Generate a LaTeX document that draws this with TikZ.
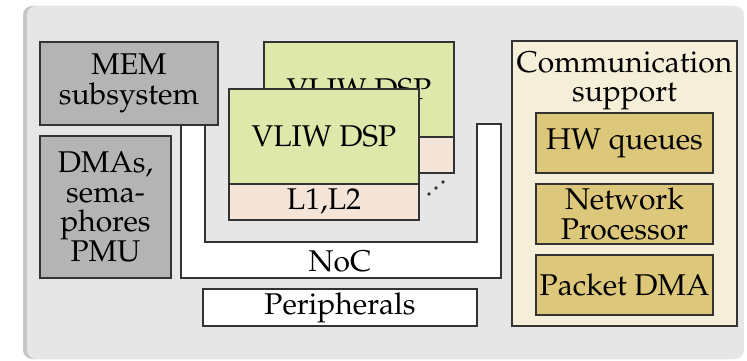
\documentclass[tikz,border=0pt]{standalone}
\usepackage[T1]{fontenc}
\usepackage{mathpazo}
\usetikzlibrary{positioning, shadows}
\definecolor{panelGray}{HTML}{E6E6E6}
\definecolor{boxGray}{HTML}{B4B4B4}
\definecolor{lineGray}{HTML}{333333}
\definecolor{dspGreen}{HTML}{DDE8AA}
\definecolor{memPink}{HTML}{F5E4D8}
\definecolor{commCream}{HTML}{F5EFD9}
\definecolor{commGold}{HTML}{DCC77A}

\begin{document}
\begin{tikzpicture}[x=1pt, y=-1pt,
    every node/.style={font=\fontsize{30}{29.5}\selectfont},
    blk/.style={draw=lineGray, line width=2.2pt, inner sep=0pt, outer sep=0pt,
                anchor=north west, align=center},
    graybox/.style={blk, fill=boxGray},
    dspbox/.style={blk, fill=dspGreen, minimum width=190pt, minimum height=95pt},
    cachebox/.style={blk, fill=memPink, minimum width=190pt, minimum height=36pt},
    goldbox/.style={blk, fill=commGold, minimum width=177pt, minimum height=60pt}]
  \useasboundingbox (0,0) rectangle (747,361);

  % background panel
  \path[fill=panelGray, rounded corners=9pt,
        drop shadow={shadow xshift=-4pt, shadow yshift=0pt, opacity=0.45}]
    (27,6) rectangle (744,359);

  % NoC
  \draw[draw=lineGray, line width=2.2pt, fill=white]
    (181,125) -- (181,278) -- (501,278) -- (501,124) -- (477,124)
    -- (477,242) -- (205,242) -- (205,125) -- cycle;
  \node (noc) at (340,261) {NoC};
  \node[blk, fill=white, minimum width=274pt, minimum height=37pt] (periph) at (203,289) {Peripherals};

  % memory and DMA blocks
  \node[graybox, minimum width=178pt, minimum height=83pt] (mem) at (40,42) {MEM\\subsystem};
  \node[graybox, minimum width=131pt, minimum height=142pt] (dma) at (40,136) {DMAs,\\sema-\\phores\\PMU};

  % DSP clusters
  \node[dspbox] (dspB) at (264,42) {VLIW DSP};
  \node[cachebox, below=0pt of dspB] (cacheB) {};
  \node[dspbox] (dspA) at (229,89) {VLIW DSP};
  \node[cachebox, below=0pt of dspA] (cacheA) {L1,L2};
  \foreach \i in {0,1,2}
    \fill[lineGray] (429+7*\i,194-6*\i) circle (1.8pt);

  % communication support
  \node[blk, fill=commCream, minimum width=225pt, minimum height=285pt] (comm) at (512,41) {};
  \node[below=7pt of comm.north, align=center] (commT) {Communication\\support};
  \node[goldbox] (hwq) at (536,113) {HW queues};
  \node[goldbox, below=11pt of hwq] (netp) {Network\\Processor};
  \node[goldbox, below=11pt of netp] (pdma) {Packet DMA};
\end{tikzpicture}
\end{document}
